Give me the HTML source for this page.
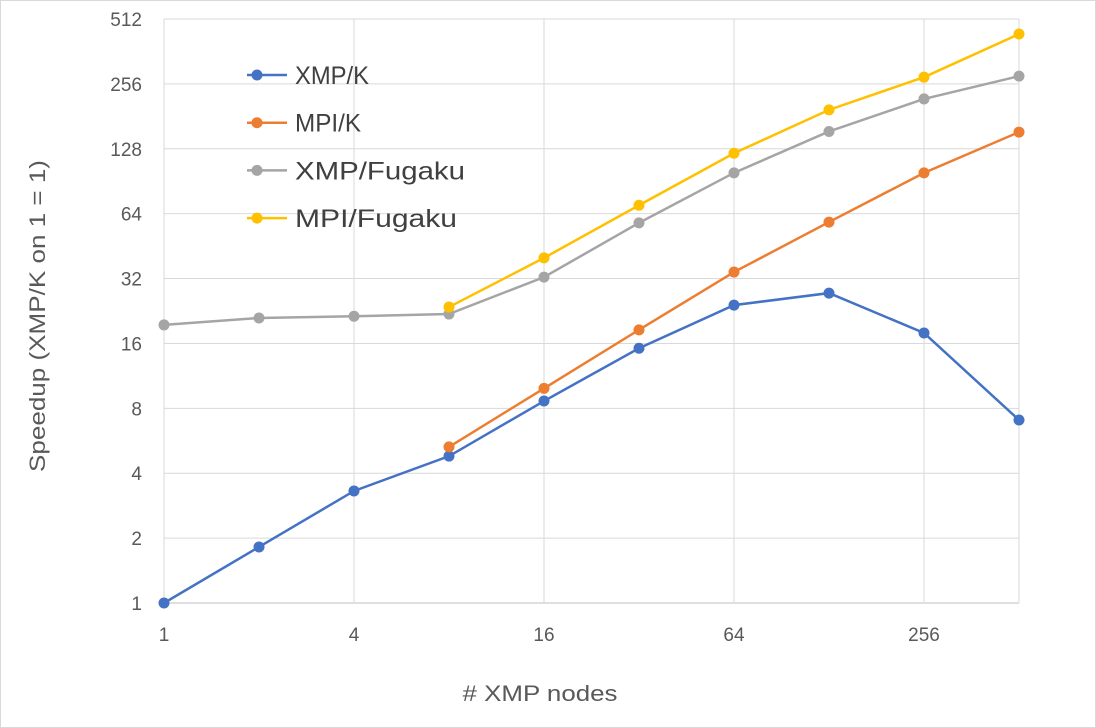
<!DOCTYPE html>
<html><head><meta charset="utf-8"><style>
body{margin:0;background:#fff;}
svg{display:block;font-family:"Liberation Sans",sans-serif;}
</style></head><body>
<svg id="chart" width="1096" height="728" viewBox="0 0 1096 728" xmlns="http://www.w3.org/2000/svg">
<rect x="0.5" y="0.5" width="1095" height="727" fill="#fff" stroke="#d9d9d9"/>
<g id="grid"></g>
<g id="axes"></g>
<g id="series"></g>
<g id="legend"></g>
<text x="540" y="701" font-size="22" fill="#595959" text-anchor="middle" textLength="155" lengthAdjust="spacingAndGlyphs"># XMP nodes</text>
<text transform="translate(45,316) rotate(-90)" font-size="22" fill="#595959" text-anchor="middle" textLength="312" lengthAdjust="spacingAndGlyphs">Speedup (XMP/K on 1 = 1)</text>
</svg>
<script>
const nodes = [1,2,4,8,16,32,64,128,256,512];
const xTicks = [1,4,16,64,256];
const yTicks = [1,2,4,8,16,32,64,128,256,512];
const seriesNames = ["XMP/K","MPI/K","XMP/Fugaku","MPI/Fugaku"];
const xmpK = [1,1.82,3.31,4.8,8.65,15.2,24.1,27.4,17.9,7.06];
const mpiK = [null,null,null,5.3,9.9,18.5,34.3,58.5,99,153];
const xmpFugaku = [19.5,21,21.4,21.9,32.5,58,99,154,218,278];
const mpiFugaku = [null,null,null,23.6,39.9,70,122,194,275,436];
const colors = ["#4472c4","#ed7d31","#a5a5a5","#ffc000"];
const legendWidths = [74,66,170,162];
const NS="http://www.w3.org/2000/svg";
const x0=164,x1=1019,y0=603,y1=19;
const xs=v=>x0+Math.log2(v)/9*(x1-x0);
const ys=v=>y0-Math.log2(v)/9*(y0-y1);
function mk(t,a,p){const e=document.createElementNS(NS,t);for(const k in a)e.setAttribute(k,a[k]);p.appendChild(e);return e;}
const grid=document.getElementById('grid'),axes=document.getElementById('axes'),ser=document.getElementById('series'),leg=document.getElementById('legend');
yTicks.forEach(v=>{
 const l=mk('line',{x1:x0,x2:x1,y1:ys(v),y2:ys(v),stroke:v===1?'#bfbfbf':'#d9d9d9','stroke-width':1},grid);
 
 
 const t=mk('text',{x:x0-22,y:ys(v)+7,'font-size':19,fill:'#595959','text-anchor':'end'},axes);
 t.textContent=v;
 
 
});
xTicks.forEach(v=>{
 const l=mk('line',{x1:xs(v),x2:xs(v),y1:y1,y2:y0,stroke:'#d9d9d9','stroke-width':1},grid);
 
 
 const t=mk('text',{x:xs(v),y:y0+38,'font-size':19,fill:'#595959','text-anchor':'middle'},axes);
 t.textContent=v;
 
 
});
const edge=mk('line',{x1:x1,x2:x1,y1:y1,y2:y0,stroke:'#d9d9d9'},grid);


[xmpK,mpiK,xmpFugaku,mpiFugaku].forEach((d,i)=>{
 const g=mk('g',{},ser);
 
 
 const pts=[];d.forEach((v,j)=>{if(v!=null)pts.push([xs(nodes[j]),ys(v)]);});
 const pl=mk('polyline',{points:pts.map(p=>p.join(',')).join(' '),fill:'none',stroke:colors[i],'stroke-width':2.5},g);
 
 
 pts.forEach(p=>{const c=mk('circle',{cx:p[0],cy:p[1],r:5.5,fill:colors[i]},g);
  
  });
 const ly=75+i*47.7;
 const lg=mk('g',{},leg);
 
 
 mk('line',{x1:247,x2:287,y1:ly,y2:ly,stroke:colors[i],'stroke-width':2.5},lg);
 mk('circle',{cx:257,cy:ly,r:5.5,fill:colors[i]},lg);
 const t=mk('text',{x:295,y:ly+9,'font-size':25,fill:'#404040',textLength:legendWidths[i],lengthAdjust:'spacingAndGlyphs'},lg);
 t.textContent=seriesNames[i];
});
</script>
</body></html>
